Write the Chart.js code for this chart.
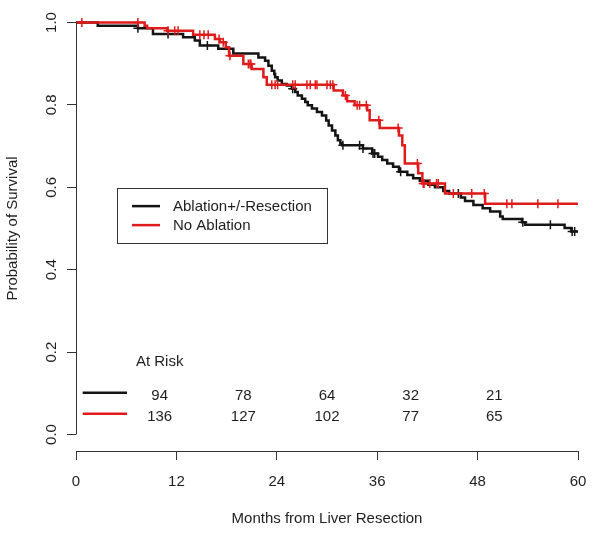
<!DOCTYPE html>
<html>
<head>
<meta charset="utf-8">
<script src="https://cdn.jsdelivr.net/npm/chart.js@4/dist/chart.umd.min.js"></script>
<style>
body { margin: 0; background: #fff; }
canvas { display: block; }
</style>
</head>
<body>
<canvas id="km" width="600" height="535"></canvas>
<script>
// Kaplan-Meier steps (months, survival)
let ablationTimes = [0, 2.6, 7.4, 9.2, 12.8, 14.2, 14.8, 17.0, 18.8, 21.8, 22.6, 23.0, 23.4, 23.7, 23.8, 24.1, 24.6, 25.2, 25.8, 26.2,
  26.5, 27.0, 27.4, 27.7, 28.2, 28.8, 29.4, 29.9, 30.2, 30.6, 31.0, 31.3, 31.6, 31.8, 34.3, 35.4, 36.1, 36.6, 37.2, 37.9,
  38.6, 39.6, 40.3, 41.1, 42.1, 42.9, 43.9, 44.6, 46.0, 46.5, 47.5, 48.6, 49.5, 50.7, 51.0, 53.3, 53.7, 58.4, 59.2, 60];
let ablationSurv = [1.0, 0.992, 0.986, 0.972, 0.964, 0.956, 0.944, 0.936, 0.925, 0.915, 0.907, 0.895, 0.883, 0.875, 0.867, 0.859, 0.851, 0.847, 0.839, 0.831,
  0.823, 0.815, 0.807, 0.799, 0.791, 0.783, 0.774, 0.762, 0.750, 0.738, 0.726, 0.714, 0.706, 0.702, 0.694, 0.682, 0.674, 0.666, 0.658, 0.650,
  0.638, 0.630, 0.622, 0.616, 0.606, 0.600, 0.591, 0.585, 0.575, 0.567, 0.557, 0.549, 0.541, 0.529, 0.523, 0.515, 0.509, 0.501, 0.493, 0.493];
let ablationCensor = [7.4, 11.0, 15.7, 25.9, 31.9, 33.9, 34.3, 35.5, 35.7, 38.8, 45.7, 53.4, 56.7, 59.3, 59.6];

let noAblationTimes = [0, 8.2, 8.5, 10.9, 14.0, 16.6, 17.2, 17.9, 18.3, 20.0, 21.0, 22.4, 22.8, 30.8, 31.9, 32.4, 33.3, 34.8, 35.1, 36.3,
  38.6, 39.0, 39.3, 40.9, 41.4, 44.1, 48.9, 60];
let noAblationSurv = [1.0, 0.992, 0.986, 0.980, 0.970, 0.960, 0.952, 0.940, 0.919, 0.899, 0.887, 0.867, 0.849, 0.835, 0.823, 0.809, 0.799, 0.787, 0.763, 0.744,
  0.726, 0.702, 0.658, 0.634, 0.609, 0.585, 0.560, 0.560];
let noAblationCensor = [0.7, 7.4, 11.0, 11.8, 12.2, 14.8, 15.3, 15.8, 17.1, 17.6, 18.4, 20.6, 20.8, 20.9, 23.4, 23.8, 24.1, 25.9, 26.2, 27.6,
  28.0, 28.6, 28.8, 30.0, 30.4, 30.7, 32.2, 33.6, 33.9, 34.7, 36.2, 38.5, 40.8, 41.5, 41.6, 42.3, 43.1, 43.3, 45.1, 47.3, 48.8, 51.5, 52.1, 55.2, 57.6];

let xTicks = [0, 12, 24, 36, 48, 60];
let yTicks = [0, 0.2, 0.4, 0.6, 0.8, 1.0];
let riskTimes = [10, 20, 30, 40, 50];
let riskAblation = [94, 78, 64, 32, 21];
let riskNoAblation = [136, 127, 102, 77, 65];

let seriesNames = ["Ablation+/-Resection", "No Ablation"];
let seriesColors = ["#141414", "#e01b1b"];
let textColor = "#1e1e1e";
let fontFamily = "'Liberation Sans', Arial, sans-serif";

function stepPoints(times, surv)
{
  let pts = [];
  for (let i = 0; i < times.length; i++)
  {
    pts.push({x: times[i], y: surv[i]});
  }
  return pts;
}

function censorPoints(censor, times, surv)
{
  let pts = [];
  for (let c of censor)
  {
    let s = surv[0];
    for (let i = 0; i < times.length; i++)
    {
      if (times[i] <= c) s = surv[i];
    }
    pts.push({x: c, y: s});
  }
  return pts;
}

// R style pieces: rotated y labels, short y axis line, legend box, numbers at risk
let rDecor = {
  id: "rDecor",
  afterDraw(chart) {
    let ctx = chart.ctx;
    let xs = chart.scales.x;
    let ys = chart.scales.y;
    let area = chart.chartArea;
    ctx.save();

    ctx.strokeStyle = "#333";
    ctx.lineWidth = 1;
    ctx.beginPath();
    ctx.moveTo(area.left + 0.5, ys.getPixelForValue(0));
    ctx.lineTo(area.left + 0.5, ys.getPixelForValue(1));
    ctx.stroke();

    ctx.fillStyle = textColor;
    ctx.font = "15px " + fontFamily;
    for (let v of yTicks)
    {
      ctx.save();
      ctx.translate(area.left - 20, ys.getPixelForValue(v));
      ctx.rotate(-Math.PI / 2);
      ctx.textAlign = "center";
      ctx.textBaseline = "alphabetic";
      ctx.fillText(v.toFixed(1), 0, 0);
      ctx.restore();
    }

    // legend
    let bx = xs.getPixelForValue(4.9);
    let by = ys.getPixelForValue(0.598);
    ctx.strokeStyle = "#333";
    ctx.lineWidth = 1;
    ctx.strokeRect(Math.round(bx) + 0.5, Math.round(by) + 0.5, 210, 55);
    ctx.textAlign = "left";
    ctx.textBaseline = "middle";
    for (let i = 0; i < seriesNames.length; i++)
    {
      let ry = by + 19 + i * 19;
      ctx.strokeStyle = seriesColors[i];
      ctx.lineWidth = 2.5;
      ctx.beginPath();
      ctx.moveTo(bx + 15, ry - 1);
      ctx.lineTo(bx + 43, ry - 1);
      ctx.stroke();
      ctx.fillText(seriesNames[i], bx + 56, ry);
    }

    // numbers at risk
    ctx.textAlign = "center";
    ctx.fillText("At Risk", xs.getPixelForValue(10), ys.getPixelForValue(0.176));
    let rows = [riskAblation, riskNoAblation];
    let rowY = [0.094, 0.043];
    for (let r = 0; r < rows.length; r++)
    {
      let py = ys.getPixelForValue(rowY[r]);
      ctx.strokeStyle = seriesColors[r];
      ctx.lineWidth = 2.5;
      ctx.beginPath();
      ctx.moveTo(xs.getPixelForValue(0.8), py - 3);
      ctx.lineTo(xs.getPixelForValue(6.1), py - 3);
      ctx.stroke();
      for (let i = 0; i < riskTimes.length; i++)
      {
        ctx.fillText(String(rows[r][i]), xs.getPixelForValue(riskTimes[i]), py);
      }
    }
    ctx.restore();
  }
};

let ctx = document.getElementById("km").getContext("2d");
let kmChart = new Chart(ctx, {
  type: "line",
  data: {
    datasets: [
      {label: seriesNames[0], data: stepPoints(ablationTimes, ablationSurv), stepped: true, borderColor: seriesColors[0], borderWidth: 2.5, pointRadius: 0, fill: false, order: 4},
      {label: seriesNames[1], data: stepPoints(noAblationTimes, noAblationSurv), stepped: true, borderColor: seriesColors[1], borderWidth: 2.5, pointRadius: 0, fill: false, order: 2},
      {label: "censor1", data: censorPoints(ablationCensor, ablationTimes, ablationSurv), showLine: false, pointStyle: "cross", pointRadius: 4.5, pointBorderWidth: 1.5, borderColor: seriesColors[0], order: 3},
      {label: "censor2", data: censorPoints(noAblationCensor, noAblationTimes, noAblationSurv), showLine: false, pointStyle: "cross", pointRadius: 4.5, pointBorderWidth: 1.5, borderColor: seriesColors[1], order: 1}
    ]
  },
  options: {
    responsive: false,
    animation: false,
    devicePixelRatio: 1,
    layout: {padding: {left: 0, right: 22, top: 3, bottom: 0}},
    plugins: {legend: {display: false}, tooltip: {enabled: false}},
    scales: {
      x: {
        type: "linear",
        min: 0,
        max: 60,
        afterBuildTicks: (scale) => { scale.ticks = xTicks.map(v => ({value: v})); },
        afterFit: (scale) => { scale.height = 84; },
        grid: {drawOnChartArea: false, drawTicks: true, tickLength: 9, color: "#333", lineWidth: 1},
        border: {display: true, color: "#333", width: 1},
        ticks: {color: textColor, font: {family: fontFamily, size: 15}, padding: 13, maxRotation: 0, autoSkip: false},
        title: {display: true, text: "Months from Liver Resection", color: textColor, font: {family: fontFamily, size: 15}, padding: {top: 0, bottom: 7}}
      },
      y: {
        type: "linear",
        min: -0.04,
        max: 1.04,
        afterBuildTicks: (scale) => { scale.ticks = yTicks.map(v => ({value: v})); },
        afterFit: (scale) => { scale.width = 76; },
        grid: {drawOnChartArea: false, drawTicks: true, tickLength: 9, color: "#333", lineWidth: 1},
        border: {display: false},
        ticks: {display: false},
        title: {display: true, text: "Probability of Survival", color: textColor, font: {family: fontFamily, size: 15}, padding: {top: 4, bottom: 0}}
      }
    }
  },
  plugins: [rDecor]
});
</script>
</body>
</html>
